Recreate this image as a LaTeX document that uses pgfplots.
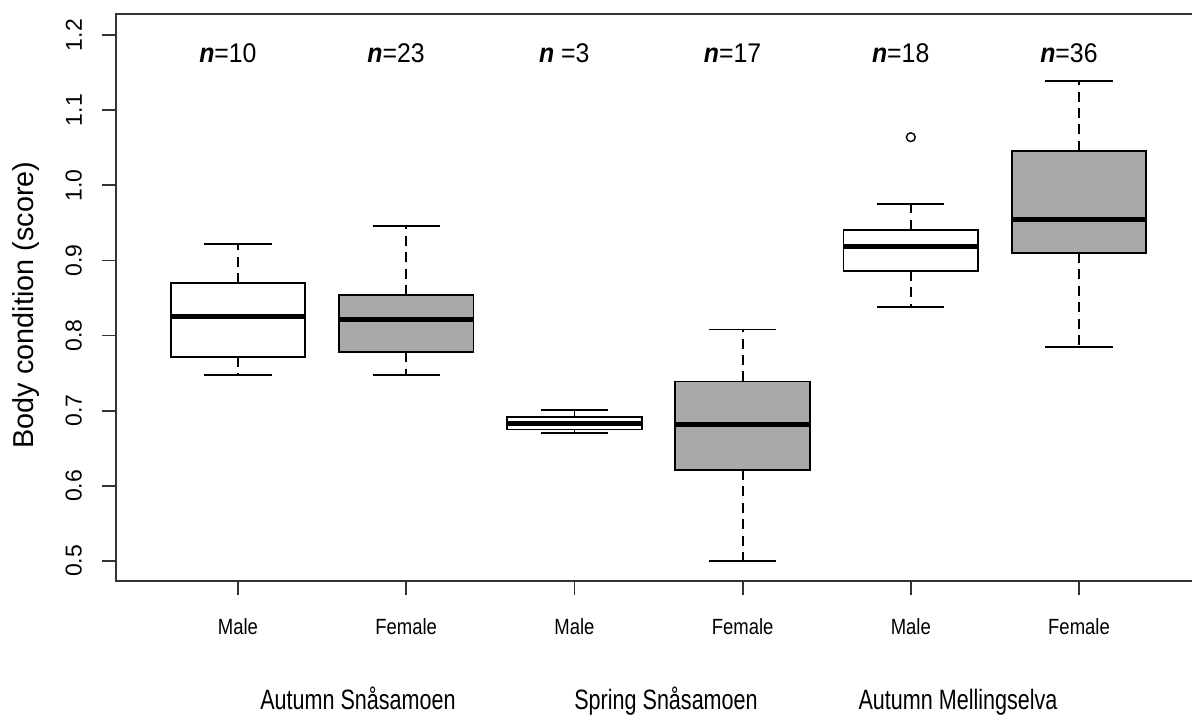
\documentclass[border=0pt]{standalone}
\usepackage{pgfplots}
\pgfplotsset{compat=1.18}
\usepgfplotslibrary{statistics}
\usepackage{fontspec}
\setmainfont{Liberation Sans}
\newfontfamily\tickfont[FakeStretch=0.84]{Liberation Sans}
\newfontfamily\groupfont[FakeStretch=0.77]{Liberation Sans}
\newfontfamily\nfont[FakeStretch=0.92]{Liberation Sans}
\definecolor{boxgray}{HTML}{A9A9A9}
\definecolor{axisgray}{HTML}{333333}
\tikzset{nlab/.style={anchor=base, font=\nfont\fontsize{13.5}{15}\selectfont},
  glab/.style={anchor=base, font=\groupfont\fontsize{14}{16}\selectfont}}
\begin{document}
\begin{tikzpicture}
\useasboundingbox (0pt,0pt) rectangle (596pt,358pt);
\begin{axis}[
  at={(58pt,67.5pt)}, anchor=south west,
  scale only axis, width=538pt, height=283.5pt,
  xmin=0.2747, xmax=6.6718, ymin=0.4734, ymax=1.228,
  clip=false,
  axis line style={draw=none},
  xtick={1,2,3,4,5,6},
  xticklabels={Male,Female,Male,Female,Male,Female},
  ytick={0.5,0.6,0.7,0.8,0.9,1.0,1.1,1.2},
  xtick pos=left, ytick pos=left,
  tick align=outside,
  major tick length=7pt,
  tick style={line width=0.9pt, axisgray},
  yticklabel shift=6.5pt,
  yticklabel style={rotate=90, anchor=south, font=\fontsize{11.5}{13}\selectfont,
     /pgf/number format/.cd, fixed, fixed zerofill, precision=1, assume math mode=true},
  xticklabel style={anchor=base, yshift=-20pt, font=\tickfont\fontsize{11}{13}\selectfont},
  boxplot/draw direction=y,
  boxplot/box extend=0.8,
  boxplot/whisker extend=0,
  boxplot/every median/.style={line width=2.5pt},
  boxplot/every whisker/.style={dash pattern=on 5pt off 3.2pt},
]
% Autumn Snasamoen
\addplot[boxplot prepared={draw position=1, lower whisker=0.748, lower quartile=0.772, median=0.825, upper quartile=0.870, upper whisker=0.922}, draw=black, fill=white, line width=0.9pt] coordinates {};
\addplot[boxplot prepared={draw position=2, lower whisker=0.748, lower quartile=0.778, median=0.821, upper quartile=0.854, upper whisker=0.946}, draw=black, fill=boxgray, line width=0.9pt] coordinates {};
% Spring Snasamoen
\addplot[boxplot prepared={draw position=3, lower whisker=0.670, lower quartile=0.675, median=0.683, upper quartile=0.692, upper whisker=0.701}, draw=black, fill=white, line width=0.9pt] coordinates {};
\addplot[boxplot prepared={draw position=4, lower whisker=0.500, lower quartile=0.621, median=0.682, upper quartile=0.739, upper whisker=0.808}, draw=black, fill=boxgray, line width=0.9pt] coordinates {};
% Autumn Mellingselva
\addplot[boxplot prepared={draw position=5, lower whisker=0.838, lower quartile=0.886, median=0.919, upper quartile=0.941, upper whisker=0.975}, draw=black, fill=white, line width=0.9pt, mark=o, mark size=2.2pt, mark options={solid, line width=0.7pt, fill=white}] coordinates {(0,1.064)};
\addplot[boxplot prepared={draw position=6, lower whisker=0.785, lower quartile=0.910, median=0.955, upper quartile=1.046, upper whisker=1.139}, draw=black, fill=boxgray, line width=0.9pt] coordinates {};
% whisker caps
\addplot[line width=0.9pt, black, unbounded coords=jump, forget plot] coordinates {
 (0.8,0.922) (1.2,0.922) (1,nan)
 (0.8,0.748) (1.2,0.748) (1,nan)
 (1.8,0.946) (2.2,0.946) (2,nan)
 (1.8,0.748) (2.2,0.748) (2,nan)
 (2.8,0.701) (3.2,0.701) (3,nan)
 (2.8,0.670) (3.2,0.670) (3,nan)
 (3.8,0.808) (4.2,0.808) (4,nan)
 (3.8,0.500) (4.2,0.500) (4,nan)
 (4.8,0.975) (5.2,0.975) (5,nan)
 (4.8,0.838) (5.2,0.838) (5,nan)
 (5.8,1.139) (6.2,1.139) (6,nan)
 (5.8,0.785) (6.2,0.785)
};
% axis frame (left, top, bottom)
\draw[line width=1pt, axisgray] (rel axis cs:1,1) -- (rel axis cs:0,1) -- (rel axis cs:0,0) -- (rel axis cs:1,0);
% n labels
\node[nlab] at (axis cs:0.94,1.1632) {\textbf{\textit{n}}=10};
\node[nlab] at (axis cs:1.94,1.1632) {\textbf{\textit{n}}=23};
\node[nlab] at (axis cs:2.94,1.1632) {\textbf{\textit{n}} =3};
\node[nlab] at (axis cs:3.94,1.1632) {\textbf{\textit{n}}=17};
\node[nlab] at (axis cs:4.94,1.1632) {\textbf{\textit{n}}=18};
\node[nlab] at (axis cs:5.94,1.1632) {\textbf{\textit{n}}=36};
% group labels
\node[glab] at ([yshift=-64pt]axis cs:1.7135,0.4734) {Autumn Snåsamoen};
\node[glab] at ([yshift=-64pt]axis cs:3.5447,0.4734) {Spring Snåsamoen};
\node[glab] at ([yshift=-64pt]axis cs:5.2807,0.4734) {Autumn Mellingselva};
% y label
\node[rotate=90, font=\fontsize{14.4}{16}\selectfont] at ([xshift=-45pt,yshift=-3.75pt]rel axis cs:0,0.5) {Body condition (score)};
\end{axis}
\end{tikzpicture}
\end{document}
